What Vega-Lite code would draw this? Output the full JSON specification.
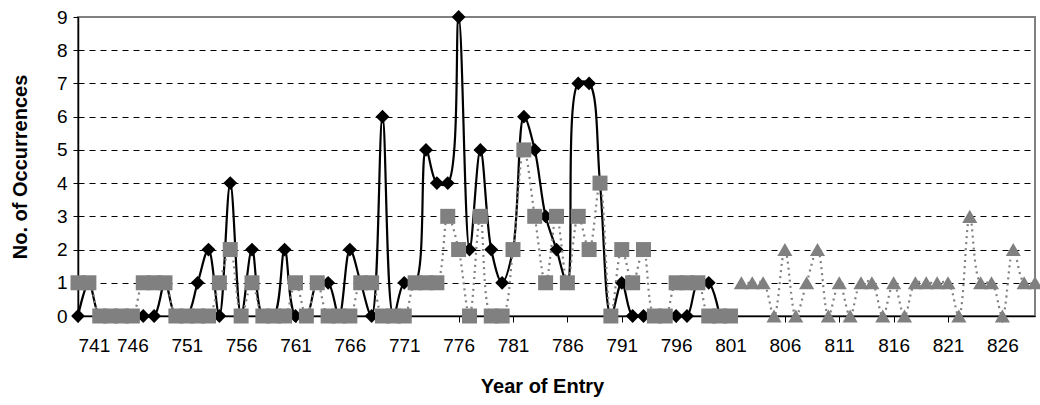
{
  "$schema": "https://vega.github.io/schema/vega-lite/v6.json",
  "width": 957,
  "height": 299,
  "autosize": {"type": "none"},
  "padding": {"left": 78, "top": 17, "right": 5, "bottom": 89},
  "background": "white",
  "config": {
    "view": {"stroke": "#808080", "strokeWidth": 2},
    "font": "Liberation Sans"
  },
  "data": {
    "values": [
      {"year": 741, "s": "d", "v": 0}, {"year": 742, "s": "d", "v": 1}, {"year": 743, "s": "d", "v": 0}, {"year": 744, "s": "d", "v": 0},
      {"year": 745, "s": "d", "v": 0}, {"year": 746, "s": "d", "v": 0}, {"year": 747, "s": "d", "v": 0}, {"year": 748, "s": "d", "v": 0},
      {"year": 749, "s": "d", "v": 1}, {"year": 750, "s": "d", "v": 0}, {"year": 751, "s": "d", "v": 0}, {"year": 752, "s": "d", "v": 1},
      {"year": 753, "s": "d", "v": 2}, {"year": 754, "s": "d", "v": 0}, {"year": 755, "s": "d", "v": 4}, {"year": 756, "s": "d", "v": 0},
      {"year": 757, "s": "d", "v": 2}, {"year": 758, "s": "d", "v": 0}, {"year": 759, "s": "d", "v": 0}, {"year": 760, "s": "d", "v": 2},
      {"year": 761, "s": "d", "v": 0}, {"year": 762, "s": "d", "v": 0}, {"year": 763, "s": "d", "v": 1}, {"year": 764, "s": "d", "v": 1},
      {"year": 765, "s": "d", "v": 0}, {"year": 766, "s": "d", "v": 2}, {"year": 767, "s": "d", "v": 1}, {"year": 768, "s": "d", "v": 0},
      {"year": 769, "s": "d", "v": 6}, {"year": 770, "s": "d", "v": 0}, {"year": 771, "s": "d", "v": 1}, {"year": 772, "s": "d", "v": 1},
      {"year": 773, "s": "d", "v": 5}, {"year": 774, "s": "d", "v": 4}, {"year": 775, "s": "d", "v": 4}, {"year": 776, "s": "d", "v": 9},
      {"year": 777, "s": "d", "v": 2}, {"year": 778, "s": "d", "v": 5}, {"year": 779, "s": "d", "v": 2}, {"year": 780, "s": "d", "v": 1},
      {"year": 781, "s": "d", "v": 2}, {"year": 782, "s": "d", "v": 6}, {"year": 783, "s": "d", "v": 5}, {"year": 784, "s": "d", "v": 3},
      {"year": 785, "s": "d", "v": 2}, {"year": 786, "s": "d", "v": 1}, {"year": 787, "s": "d", "v": 7}, {"year": 788, "s": "d", "v": 7},
      {"year": 789, "s": "d", "v": 4}, {"year": 790, "s": "d", "v": 0}, {"year": 791, "s": "d", "v": 1}, {"year": 792, "s": "d", "v": 0},
      {"year": 793, "s": "d", "v": 0}, {"year": 794, "s": "d", "v": 0}, {"year": 795, "s": "d", "v": 0}, {"year": 796, "s": "d", "v": 0},
      {"year": 797, "s": "d", "v": 0}, {"year": 798, "s": "d", "v": 1}, {"year": 799, "s": "d", "v": 1}, {"year": 800, "s": "d", "v": 0},

      {"year": 741, "s": "q", "v": 1}, {"year": 742, "s": "q", "v": 1}, {"year": 743, "s": "q", "v": 0}, {"year": 744, "s": "q", "v": 0},
      {"year": 745, "s": "q", "v": 0}, {"year": 746, "s": "q", "v": 0}, {"year": 747, "s": "q", "v": 1}, {"year": 748, "s": "q", "v": 1},
      {"year": 749, "s": "q", "v": 1}, {"year": 750, "s": "q", "v": 0}, {"year": 751, "s": "q", "v": 0}, {"year": 752, "s": "q", "v": 0},
      {"year": 753, "s": "q", "v": 0}, {"year": 754, "s": "q", "v": 1}, {"year": 755, "s": "q", "v": 2}, {"year": 756, "s": "q", "v": 0},
      {"year": 757, "s": "q", "v": 1}, {"year": 758, "s": "q", "v": 0}, {"year": 759, "s": "q", "v": 0}, {"year": 760, "s": "q", "v": 0},
      {"year": 761, "s": "q", "v": 1}, {"year": 762, "s": "q", "v": 0}, {"year": 763, "s": "q", "v": 1}, {"year": 764, "s": "q", "v": 0},
      {"year": 765, "s": "q", "v": 0}, {"year": 766, "s": "q", "v": 0}, {"year": 767, "s": "q", "v": 1}, {"year": 768, "s": "q", "v": 1},
      {"year": 769, "s": "q", "v": 0}, {"year": 770, "s": "q", "v": 0}, {"year": 771, "s": "q", "v": 0}, {"year": 772, "s": "q", "v": 1},
      {"year": 773, "s": "q", "v": 1}, {"year": 774, "s": "q", "v": 1}, {"year": 775, "s": "q", "v": 3}, {"year": 776, "s": "q", "v": 2},
      {"year": 777, "s": "q", "v": 0}, {"year": 778, "s": "q", "v": 3}, {"year": 779, "s": "q", "v": 0}, {"year": 780, "s": "q", "v": 0},
      {"year": 781, "s": "q", "v": 2}, {"year": 782, "s": "q", "v": 5}, {"year": 783, "s": "q", "v": 3}, {"year": 784, "s": "q", "v": 1},
      {"year": 785, "s": "q", "v": 3}, {"year": 786, "s": "q", "v": 1}, {"year": 787, "s": "q", "v": 3}, {"year": 788, "s": "q", "v": 2},
      {"year": 789, "s": "q", "v": 4}, {"year": 790, "s": "q", "v": 0}, {"year": 791, "s": "q", "v": 2}, {"year": 792, "s": "q", "v": 1},
      {"year": 793, "s": "q", "v": 2}, {"year": 794, "s": "q", "v": 0}, {"year": 795, "s": "q", "v": 0}, {"year": 796, "s": "q", "v": 1},
      {"year": 797, "s": "q", "v": 1}, {"year": 798, "s": "q", "v": 1}, {"year": 799, "s": "q", "v": 0}, {"year": 800, "s": "q", "v": 0},
      {"year": 801, "s": "q", "v": 0},

      {"year": 802, "s": "t", "v": 1}, {"year": 803, "s": "t", "v": 1}, {"year": 804, "s": "t", "v": 1}, {"year": 805, "s": "t", "v": 0},
      {"year": 806, "s": "t", "v": 2}, {"year": 807, "s": "t", "v": 0}, {"year": 808, "s": "t", "v": 1}, {"year": 809, "s": "t", "v": 2},
      {"year": 810, "s": "t", "v": 0}, {"year": 811, "s": "t", "v": 1}, {"year": 812, "s": "t", "v": 0}, {"year": 813, "s": "t", "v": 1},
      {"year": 814, "s": "t", "v": 1}, {"year": 815, "s": "t", "v": 0}, {"year": 816, "s": "t", "v": 1}, {"year": 817, "s": "t", "v": 0},
      {"year": 818, "s": "t", "v": 1}, {"year": 819, "s": "t", "v": 1}, {"year": 820, "s": "t", "v": 1}, {"year": 821, "s": "t", "v": 1},
      {"year": 822, "s": "t", "v": 0}, {"year": 823, "s": "t", "v": 3}, {"year": 824, "s": "t", "v": 1}, {"year": 825, "s": "t", "v": 1},
      {"year": 826, "s": "t", "v": 0}, {"year": 827, "s": "t", "v": 2}, {"year": 828, "s": "t", "v": 1}, {"year": 829, "s": "t", "v": 1}
    ]
  },
  "encoding": {
    "x": {
      "field": "year",
      "type": "quantitative",
      "scale": {"domain": [741, 829], "nice": false, "zero": false},
      "axis": {
        "title": "Year of Entry",
        "values": [741, 746, 751, 756, 761, 766, 771, 776, 781, 786, 791, 796, 801, 806, 811, 816, 821, 826],
        "format": "d",
        "grid": false,
        "domainColor": "black",
        "domainWidth": 1.5,
        "tickColor": "black",
        "tickSize": 6,
        "tickWidth": 1,
        "labelFontSize": 19,
        "labelColor": "black",
        "labelPadding": 14,
        "labelFont": "Liberation Sans",
        "titleFont": "Liberation Sans",
        "titleFontSize": 20,
        "titleFontWeight": "bold",
        "titleColor": "black",
        "titleX": 464,
        "titleY": 70,
        "titleBaseline": "middle"
      }
    },
    "y": {
      "field": "v",
      "type": "quantitative",
      "scale": {"domain": [0, 9], "nice": false},
      "axis": {
        "title": "No. of Occurrences",
        "values": [0, 1, 2, 3, 4, 5, 6, 7, 8, 9],
        "grid": true,
        "gridColor": "black",
        "gridDash": [6, 5],
        "gridWidth": 1,
        "gridOpacity": {"condition": {"test": "datum.value === 0 || datum.value === 9", "value": 0}, "value": 1},
        "domainColor": "black",
        "domainWidth": 1.5,
        "tickColor": "black",
        "tickSize": 5,
        "labelFontSize": 19,
        "labelColor": "black",
        "labelPadding": 6,
        "labelFont": "Liberation Sans",
        "titleFont": "Liberation Sans",
        "titleFontSize": 20,
        "titleFontWeight": "bold",
        "titleColor": "black",
        "titlePadding": 26
      }
    }
  },
  "layer": [
    {
      "transform": [{"filter": "datum.s === 'd'"}],
      "mark": {"type": "line", "interpolate": "catmull-rom", "color": "black", "strokeWidth": 2.2}
    },
    {
      "transform": [{"filter": "datum.s === 'd'"}],
      "mark": {"type": "point", "shape": "diamond", "filled": true, "color": "black", "size": 190, "opacity": 1, "strokeWidth": 0}
    },
    {
      "transform": [{"filter": "datum.s !== 'd'"}],
      "mark": {"type": "line", "interpolate": "catmull-rom", "color": "#808080", "strokeWidth": 2.2, "strokeDash": [2, 4]},
      "encoding": {"detail": {"field": "s", "type": "nominal"}}
    },
    {
      "transform": [{"filter": "datum.s === 'q'"}],
      "mark": {"type": "point", "shape": "square", "filled": true, "color": "#808080", "size": 225, "opacity": 1, "strokeWidth": 0}
    },
    {
      "transform": [{"filter": "datum.s === 't'"}],
      "mark": {"type": "point", "shape": "triangle-up", "filled": true, "color": "#808080", "size": 230, "opacity": 1, "strokeWidth": 0}
    }
  ]
}
